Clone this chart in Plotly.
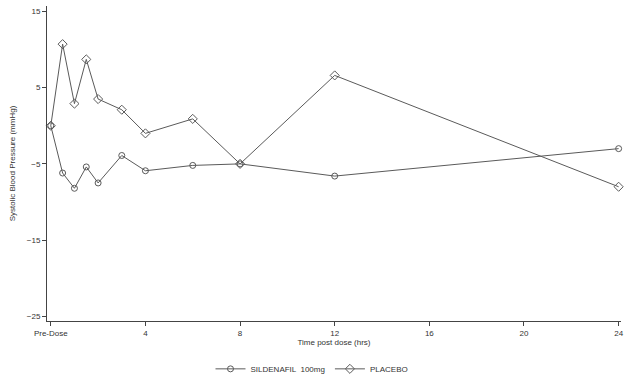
import plotly.graph_objects as go

times = [0, 0.5, 1, 1.5, 2, 3, 4, 6, 8, 12, 24]
sildenafil = [0, -6.2, -8.2, -5.4, -7.5, -3.9, -5.9, -5.2, -5.0, -6.6, -3.0]
placebo = [0, 10.7, 2.9, 8.7, 3.5, 2.1, -1.0, 0.9, -5.0, 6.6, -8.0]
xtick_vals = [0, 4, 8, 12, 16, 20, 24]
xtick_text = ["Pre-Dose", "4", "8", "12", "16", "20", "24"]
ytick_vals = [15, 5, -5, -15, -25]

line_col = "#5a5a5a"
font = dict(family="Liberation Sans, Arial, sans-serif", size=8, color="#333333")

fig = go.Figure()
fig.add_trace(go.Scatter(
    x=times, y=sildenafil, mode="lines+markers", name="SILDENAFIL  100mg",
    line=dict(color=line_col, width=1), cliponaxis=False,
    marker=dict(symbol="circle-open", size=6, color=line_col, line=dict(width=1))
))
fig.add_trace(go.Scatter(
    x=times, y=placebo, mode="lines+markers", name="PLACEBO",
    line=dict(color=line_col, width=1), cliponaxis=False,
    marker=dict(symbol="diamond-open", size=7, color=line_col, line=dict(width=1))
))

fig.update_layout(
    width=624, height=376,
    margin=dict(l=47, r=3, t=6, b=55),
    paper_bgcolor="white", plot_bgcolor="white",
    font=font,
    showlegend=True,
    legend=dict(orientation="h", x=0.5, xanchor="center", xref="container",
                y=0.019, yanchor="middle", yref="container",
                font=font, itemwidth=30, tracegroupgap=0),
    xaxis=dict(range=[-0.16, 24.1], tickvals=xtick_vals, ticktext=xtick_text,
               automargin=False,
               showgrid=False, zeroline=False, showline=True, linecolor="#444444",
               linewidth=1, ticks="outside", ticklen=4, tickcolor="#444444",
               title=dict(text="Time post dose (hrs)", font=font, standoff=2)),
    yaxis=dict(range=[-25.6, 15.7], tickvals=ytick_vals, automargin=False,
               showgrid=False, zeroline=False, showline=True, linecolor="#444444",
               linewidth=1, ticks="outside", ticklen=4, tickcolor="#444444",
               title=dict(text="Systolic Blood Pressure (mmHg)", font=font, standoff=10)),
)

post = "document.body.style.margin='0';document.body.style.overflow='hidden';"
fig.write_html("out.html", post_script=post, config={"displayModeBar": False})
